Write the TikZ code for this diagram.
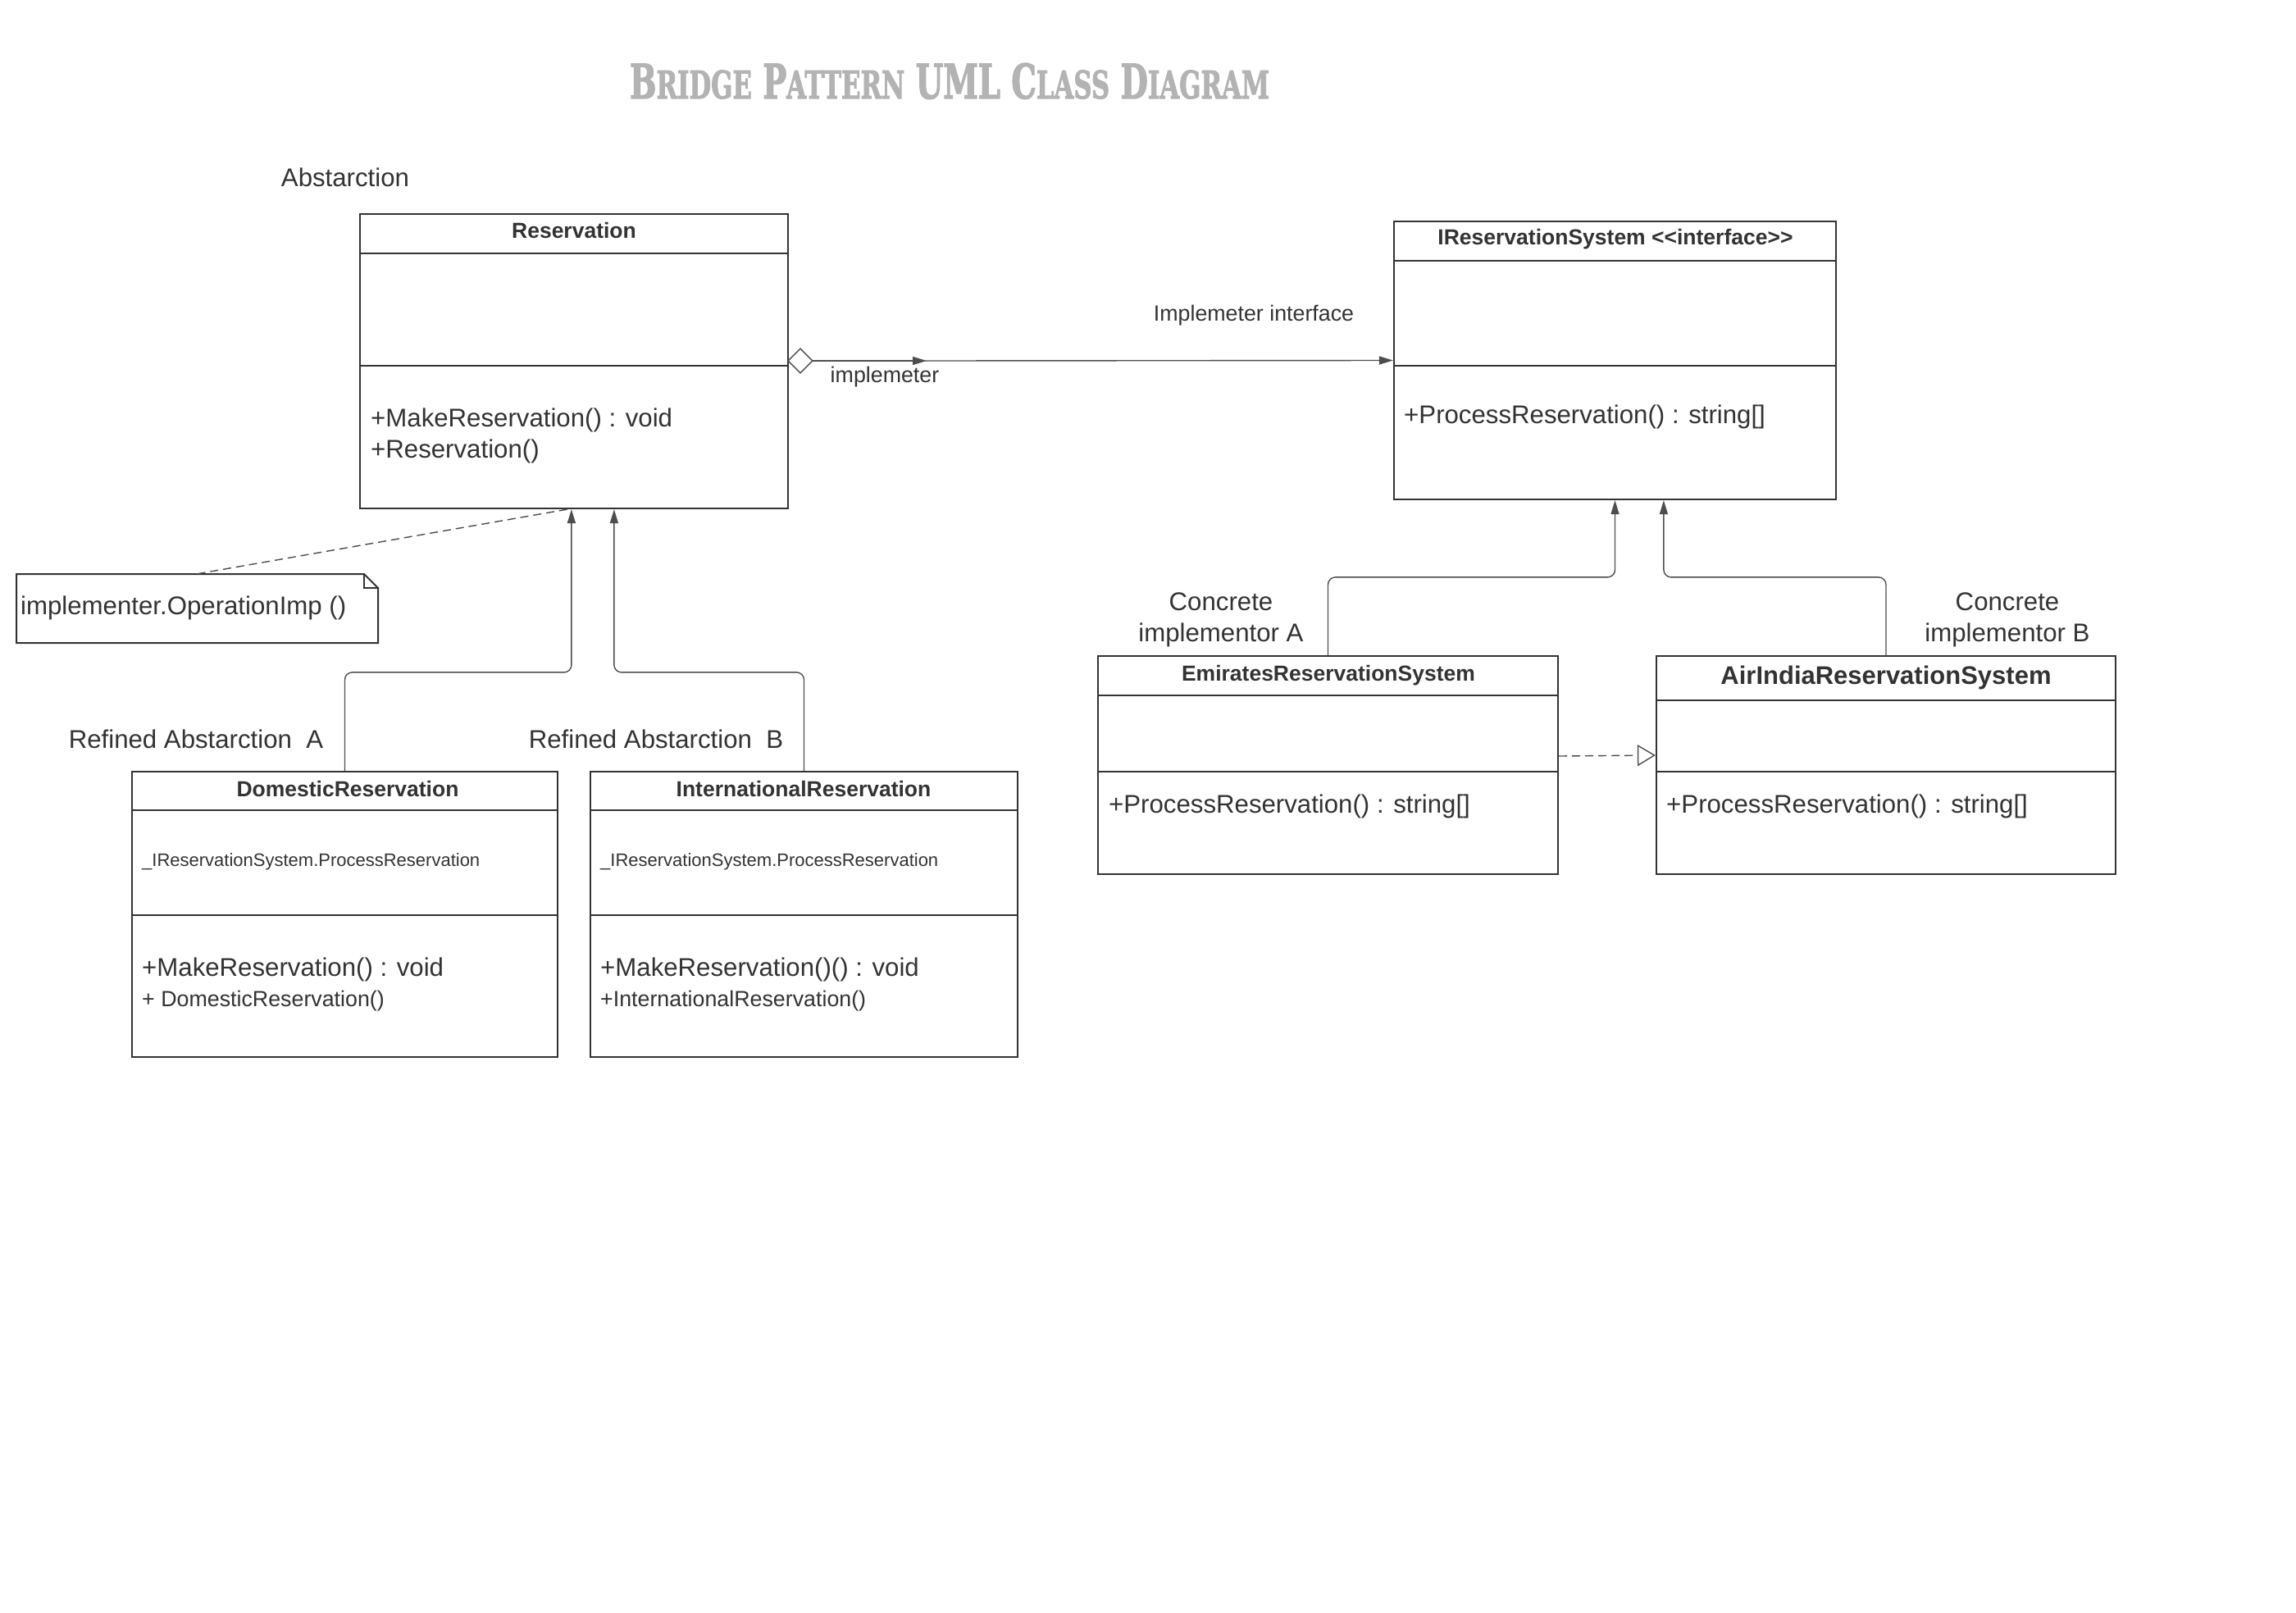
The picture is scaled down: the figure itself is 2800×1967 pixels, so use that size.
\documentclass[tikz,border=0pt]{standalone}
\usepackage{fontspec}
\setmainfont{Liberation Sans}
\newfontfamily\titlefont[BoldFeatures={FakeBold=2.5}]{DejaVu Serif}
\usetikzlibrary{arrows.meta,fit,calc}
\definecolor{ink}{HTML}{333333}
\definecolor{conncol}{HTML}{4D4D4D}
\definecolor{titlegray}{HTML}{B3B3B3}
\newcommand\tsc[2]{{\fontsize{50}{50}\selectfont #1}{\fontsize{40}{40}\selectfont #2}}
\begin{document}
\begin{tikzpicture}[x=1pt,y=-1pt,
  boxst/.style={draw=ink,line width=2.2pt,inner sep=0pt,fill=white},
  sepline/.style={draw=ink,line width=2.2pt},
  conn/.style={draw=conncol,line width=1.4pt},
  tipA/.style={-{Triangle[length=17pt,width=10pt]}},
  big/.style={font=\fontsize{31.2}{38}\selectfont,text=ink,inner sep=0pt},
  mid/.style={font=\fontsize{26.8}{32}\selectfont,text=ink,inner sep=0pt},
  small/.style={font=\fontsize{22}{26}\selectfont,text=ink,inner sep=0pt},
  hdr/.style={font=\bfseries\fontsize{26.5}{32}\selectfont,text=ink,inner sep=0pt},
  hdrbig/.style={font=\bfseries\fontsize{31}{38}\selectfont,text=ink,inner sep=0pt},
]
\fill[white] (0,0) rectangle (2800,1967);
\useasboundingbox (0,0) rectangle (2800,1967);

% title
\node[anchor=base,inner sep=0pt,text=titlegray] (title) at (1158,120)
  {\resizebox{780pt}{43pt}{\titlefont\bfseries\fontsize{50}{50}\selectfont\tsc{B}{RIDGE} \tsc{P}{ATTERN} \tsc{UML}{} \tsc{C}{LASS} \tsc{D}{IAGRAM}}};

% ---- Reservation
\coordinate (resTL) at (439,261); \coordinate (resBR) at (961,620);
\node[boxst,fit=(resTL)(resBR)] (res) {};
\draw[sepline] (439,309) -- (961,309);
\draw[sepline] (439,446) -- (961,446);
\node[hdr] (resh) at (700,281) {Reservation};
\node[big,anchor=west] (resm1) at (452,512.5) {+MakeReservation() : void};
\node[big,anchor=west] (resm2) at (452,550) {+Reservation()};
\node[big] (abs) at (421,216) {Abstarction};

% ---- IReservationSystem
\coordinate (irTL) at (1700,270); \coordinate (irBR) at (2239,609);
\node[boxst,fit=(irTL)(irBR)] (ires) {};
\draw[sepline] (1700,318) -- (2239,318);
\draw[sepline] (1700,446) -- (2239,446);
\node[hdr] (iresh) at (1970,292) {IReservationSystem <{}<interface>{}>};
\node[big,anchor=west] (iresm) at (1712,508.5) {+ProcessReservation() : string[]};

% ---- aggregation connector
\node[draw=conncol,line width=1.4pt,fill=white,shape=rectangle,rotate=45,minimum size=21pt,inner sep=0pt] (dia) at (976,440) {};
\coordinate (dtip) at (991,440);
\draw[conn,tipA] (dtip) -- (1130,440);
\draw[conn,tipA] (1128,440) -- (ires.west);
\node[mid] (lblimp) at (1079,460) {implemeter};
\node[mid] (lblimpi) at (1529,385) {Implemeter interface};

% ---- note
\coordinate (nTL) at (20,700); \coordinate (nBR) at (461,784);
\node[fit=(nTL)(nBR),inner sep=0pt] (note) {};
\draw[draw=ink,line width=2pt,fill=white] (20,700) -- (444,700) -- (461,717) -- (461,784) -- (20,784) -- cycle;
\draw[draw=ink,line width=1.4pt] (444,700) -- (444,717) -- (461,717);
\node[big,anchor=west] (notet) at (25,741) {implementer.OperationImp ()};
\draw[conn,dashed,dash pattern=on 10pt off 6pt] (note.north) -- ([xshift=254pt]res.south west);

% ---- DomesticReservation
\coordinate (dTL) at (161,941); \coordinate (dBR) at (680,1289);
\node[boxst,fit=(dTL)(dBR)] (dom) {};
\draw[sepline] (161,988) -- (680,988);
\draw[sepline] (161,1116) -- (680,1116);
\node[hdr] (domh) at (424,962) {DomesticReservation};
\node[small,anchor=west] (doma) at (173,1051) {\_IReservationSystem.ProcessReservation};
\node[big,anchor=west] (domm1) at (173,1182) {+MakeReservation() : void};
\node[mid,anchor=west] (domm2) at (173,1221) {+ DomesticReservation()};

% ---- InternationalReservation
\coordinate (iTL) at (720,941); \coordinate (iBR) at (1241,1289);
\node[boxst,fit=(iTL)(iBR)] (int) {};
\draw[sepline] (720,988) -- (1241,988);
\draw[sepline] (720,1116) -- (1241,1116);
\node[hdr] (inth) at (980,962) {InternationalReservation};
\node[small,anchor=west] (inta) at (732,1051) {\_IReservationSystem.ProcessReservation};
\node[big,anchor=west] (intm1) at (732,1182) {+MakeReservation()() : void};
\node[mid,anchor=west] (intm2) at (732,1221) {+InternationalReservation()};

\node[big] (rA) at (239,901) {Refined Abstarction\ \ A};
\node[big] (rB) at (800,901) {Refined Abstarction\ \ B};

% generalization to Reservation
\draw[conn,tipA,rounded corners=9pt] (dom.north) -- ++(0,-120) -| ([xshift=259pt]res.south west);
\draw[conn,tipA,rounded corners=9pt] (int.north) -- ++(0,-120) -| ([xshift=311pt]res.south west);

% ---- Emirates
\coordinate (eTL) at (1339,800); \coordinate (eBR) at (1900,1066);
\node[boxst,fit=(eTL)(eBR)] (emi) {};
\draw[sepline] (1339,848) -- (1900,848);
\draw[sepline] (1339,941) -- (1900,941);
\node[hdr] (emih) at (1620,824) {EmiratesReservationSystem};
\node[big,anchor=west] (emim) at (1352,983.5) {+ProcessReservation() : string[]};

% ---- AirIndia
\coordinate (aTL) at (2020,800); \coordinate (aBR) at (2580,1066);
\node[boxst,fit=(aTL)(aBR)] (air) {};
\draw[sepline] (2020,854) -- (2580,854);
\draw[sepline] (2020,941) -- (2580,941);
\node[hdrbig] (airh) at (2300,826) {AirIndiaReservationSystem};
\node[big,anchor=west] (airm) at (2032,983.5) {+ProcessReservation() : string[]};

\node[big,align=center] (cA) at (1489,756) {Concrete\\implementor A};
\node[big,align=center] (cB) at (2448,756) {Concrete\\implementor B};

% implementation arrows to interface
\draw[conn,tipA,rounded corners=9pt] (emi.north) -- ++(0,-95) -| (ires.south);
\draw[conn,tipA,rounded corners=9pt] (air.north) -- ++(0,-95) -| ([xshift=330pt]ires.south west);

% realization dashed
\draw[conn,dashed,dash pattern=on 10pt off 6pt,-{Triangle[open,length=22pt,width=26pt,line width=1.4pt]}] ([yshift=11pt]emi.east) -- ([yshift=12pt]air.west);
\end{tikzpicture}
\end{document}
